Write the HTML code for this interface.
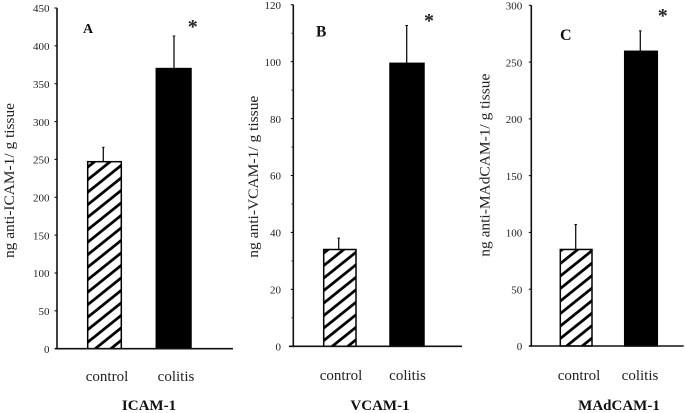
<!DOCTYPE html>
<html>
<head>
<meta charset="utf-8">
<title>ICAM-1, VCAM-1 and MAdCAM-1 bar charts</title>
<style>
  html, body { margin: 0; padding: 0; background: #fff; }
  #chart { display: block; width: 685px; height: 413px; filter: blur(0.3px); font-family: "Liberation Serif", serif; }
</style>
</head>
<body>
<svg id="chart" xmlns="http://www.w3.org/2000/svg" width="685" height="413" viewBox="0 0 685 413">
  <defs>
    <pattern id="hatch" patternUnits="userSpaceOnUse" width="15.6" height="12.5">
      <rect width="15.6" height="12.5" fill="#fff"></rect>
      <path d="M-3.9 3.125L3.9 -3.125M-3.9 15.625L19.5 -3.125M11.7 15.625L19.5 9.375" stroke="#000" stroke-width="2.8" fill="none"></path>
    </pattern>
  </defs>
</svg>
<script>
const categories = ["control", "colitis"];
const panelLetters = ["A", "B", "C"];
const panelTitles = ["ICAM-1", "VCAM-1", "MAdCAM-1"];
const yTitles = ["ng anti-ICAM-1/ g tissue", "ng anti-VCAM-1/ g tissue", "ng anti-MAdCAM-1/ g tissue"];
const ticksA = [0, 50, 100, 150, 200, 250, 300, 350, 400, 450];
const ticksB = [0, 20, 40, 60, 80, 100, 120];
const ticksC = [0, 50, 100, 150, 200, 250, 300];
const valuesA = [247, 370];
const valuesB = [34, 99.4];
const valuesC = [85, 259.5];
const errorsA = [19, 43];
const errorsB = [4, 13.3];
const errorsC = [22, 18];

const panels = [
  { ticks: ticksA, values: valuesA, errors: errorsA, axisX: 57, top: 8, base: 348.7, xEnd: 233, xStart: 55,
    barX: [87.7, 156.3], barW: [33.6, 34.7], errX: [103.3, 174], labelRight: 49.5,
    catX: [107, 176], catY: 381, titleX: 149, titleY: 410,
    yTitleX: 14, yTitleLen: 155, yTitleBottom: 258,
    letterX: 83, letterY: 33, letterSize: 14, starX: 192.7, starY: 33, minor: false },
  { ticks: ticksB, values: valuesB, errors: errorsB, axisX: 293.3, top: 4.7, base: 346.3, xEnd: 462, xStart: 289,
    barX: [323.7, 390], barW: [32.3, 34], errX: [338.7, 406.7], labelRight: 281,
    catX: [341, 407.5], catY: 380, titleX: 380, titleY: 410,
    yTitleX: 258, yTitleLen: 162, yTitleBottom: 257.7,
    letterX: 316, letterY: 36.7, letterSize: 15.5, starX: 429, starY: 27, minor: true },
  { ticks: ticksC, values: valuesC, errors: errorsC, axisX: 531.3, top: 5.3, base: 346, xEnd: 683.7, xStart: 529,
    barX: [560.3, 624.7], barW: [31.7, 32.6], errX: [575.7, 640.3], labelRight: 522.3,
    catX: [579, 640], catY: 380, titleX: 619, titleY: 410,
    yTitleX: 489.3, yTitleLen: 183, yTitleBottom: 256.7,
    letterX: 560, letterY: 40, letterSize: 16, starX: 662.7, starY: 22, minor: false }
];

const svg = document.getElementById("chart");
const NS = "http://www.w3.org/2000/svg";

function make(parent, tag, attrs, text) {
  const el = document.createElementNS(NS, tag);
  for (const k in attrs) el.setAttribute(k, attrs[k]);
  if (text !== undefined) el.textContent = text;
  parent.appendChild(el);
  return el;
}

panels.forEach(function (p, pi) {
  const key = panelLetters[pi].toLowerCase();
  const maxV = p.ticks[p.ticks.length - 1];
  const yScale = function (v) { return p.base - (v / maxV) * (p.base - p.top); };

  const group = make(svg, "g", {});
  
  

  // bars and error bars
  categories.forEach(function (cat, i) {
    const v = p.values[i];
    const errLine = make(group, "line", { x1: p.errX[i], x2: p.errX[i], y1: yScale(v), y2: yScale(v + p.errors[i]), stroke: "#111", "stroke-width": 1.3 });
    
    

    const errCap = make(group, "line", { x1: p.errX[i] - 1.3, x2: p.errX[i] + 1.3, y1: yScale(v + p.errors[i]), y2: yScale(v + p.errors[i]), stroke: "#111", "stroke-width": 1 });
    
    

    const bar = make(group, "rect", { x: p.barX[i], y: yScale(v), width: p.barW[i], height: yScale(0) - yScale(v),
      fill: i === 0 ? "url(#hatch)" : "#000", stroke: "#000", "stroke-width": 1.5 });
    
    

    const catLabel = make(group, "text", { x: p.catX[i], y: p.catY, "text-anchor": "middle", "font-size": 15, fill: "#222" }, cat);
    
    
  });

  // axes
  const yAxis = make(group, "line", { x1: p.axisX, x2: p.axisX, y1: p.top, y2: p.base + 0.8, stroke: "#111", "stroke-width": 1.6 });
  
  

  const xAxis = make(group, "line", { x1: p.xStart, x2: p.xEnd, y1: p.base, y2: p.base, stroke: "#111", "stroke-width": 1.6 });
  
  

  // ticks
  p.ticks.forEach(function (t, ti) {
    const y = yScale(t);
    const tick = make(group, "line", { x1: p.axisX - 2.5, x2: p.axisX, y1: y, y2: y, stroke: "#111", "stroke-width": 1.1 });
    
    

    const label = make(group, "text", { x: p.labelRight, y: y + 4.2, "text-anchor": "end", "font-size": 11, fill: "#222" }, String(t));
    
    

    if (p.minor && ti < p.ticks.length - 1) {
      const my = yScale((t + p.ticks[ti + 1]) / 2);
      const minor = make(group, "line", { x1: p.axisX - 2, x2: p.axisX, y1: my, y2: my, stroke: "#333", "stroke-width": 0.9 });
      
      
    }
  });

  // y title
  const yTitle = make(group, "text", { x: 0, y: 0, "font-size": 15, fill: "#222", textLength: p.yTitleLen, lengthAdjust: "spacingAndGlyphs",
    transform: "translate(" + p.yTitleX + " " + p.yTitleBottom + ") rotate(-90)" }, yTitles[pi]);
  
  

  // panel letter
  const letter = make(group, "text", { x: p.letterX, y: p.letterY, "font-size": p.letterSize, "font-weight": "bold", fill: "#111" }, panelLetters[pi]);
  
  

  // significance star
  const star = make(group, "text", { x: p.starX, y: p.starY, "text-anchor": "middle", "font-size": 20, "font-weight": "bold", fill: "#222" }, "*");
  
  

  // bottom title
  const title = make(group, "text", { x: p.titleX, y: p.titleY, "text-anchor": "middle", "font-size": 15, "font-weight": "bold", fill: "#111" }, panelTitles[pi]);
  
  
});
</script>
</body>
</html>
